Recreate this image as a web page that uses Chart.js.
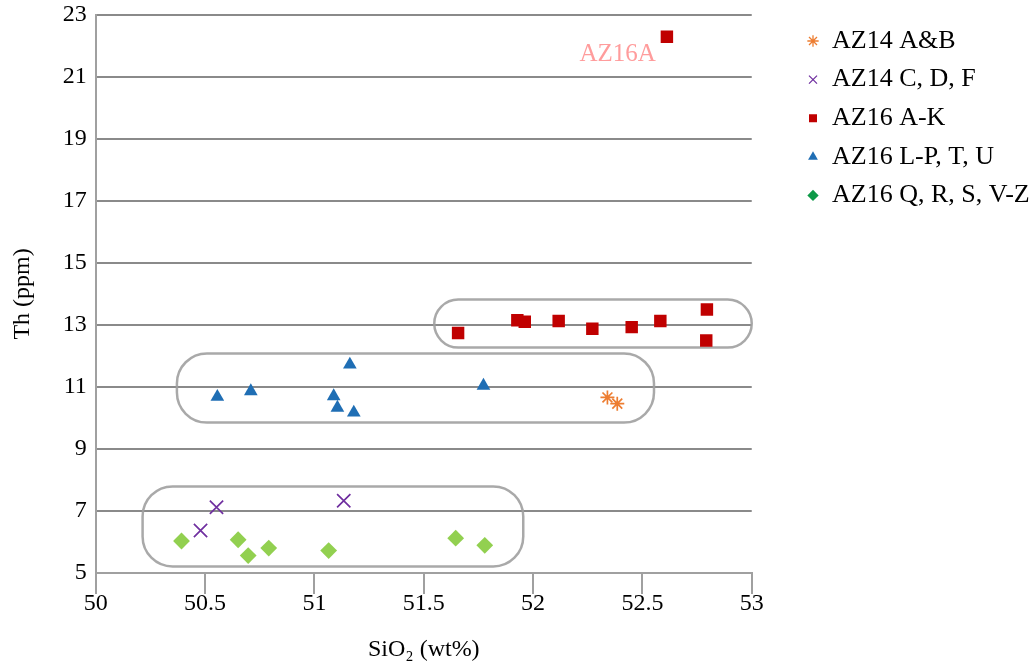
<!DOCTYPE html>
<html><head><meta charset="utf-8">
<script src="https://cdn.jsdelivr.net/npm/chart.js@4/dist/chart.umd.min.js"></script>
<style>html,body{margin:0;padding:0;background:#fff}#wrap{width:1034px;height:668px;position:relative}</style>
</head><body><div id="wrap"><canvas id="c" width="1034" height="668"></canvas></div>
<script>
// ---- data ----
const seriesNames = ['AZ14 A&B', 'AZ14 C, D, F', 'AZ16 A-K', 'AZ16 L-P, T, U', 'AZ16 Q, R, S, V-Z'];
const az14ab_x = [52.34, 52.385];
const az14ab_y = [10.66, 10.46];
const az14cdf_x = [50.552, 50.479, 51.134];
const az14cdf_y = [7.12, 6.37, 7.33];
const az16ak_x = [52.612, 51.657, 51.928, 51.962, 52.117, 52.271, 52.451, 52.582, 52.795, 52.792];
const az16ak_y = [22.30, 12.74, 13.15, 13.10, 13.13, 12.88, 12.93, 13.13, 13.50, 12.50];
const az16lp_x = [50.556, 50.709, 51.162, 51.088, 51.105, 51.180, 51.773];
const az16lp_y = [10.68, 10.86, 11.72, 10.70, 10.33, 10.17, 11.04];
const az16qr_x = [50.392, 50.651, 50.697, 50.791, 51.065, 51.646, 51.779];
const az16qr_y = [6.03, 6.07, 5.56, 5.80, 5.72, 6.12, 5.89];
const xTicks = [50, 50.5, 51, 51.5, 52, 52.5, 53];
const yTicks = [5, 7, 9, 11, 13, 15, 17, 19, 21, 23];
const xTitle = 'SiO\u2082 (wt%)';
const yTitle = 'Th (ppm)';
// group outlines (data coords)
const boxX0 = [51.548, 50.371, 50.214];
const boxX1 = [53.0, 52.553, 51.955];
const boxY0 = [12.27, 9.85, 5.21];
const boxY1 = [13.82, 12.08, 7.79];
// point label
const noteText = ['AZ16A'];
const noteX = [52.387];
const noteY = [21.5];

// ---- styles ----
const colors = ['#ED7D31', '#7030A0', '#C00000', '#1F6EB4', '#92D050'];
const legendColors = ['#ED7D31', '#7030A0', '#C00000', '#1F6EB4', '#0E9A48'];
const styles = ['star', 'crossRot', 'rect', 'triangle', 'rectRot'];
const radii = [7, 9.4, 8.8, 7.9, 8.4];
const FONT = '"Liberation Serif", "Times New Roman", serif';

function pts(xs, ys) { return xs.map((x, i) => ({ x: x, y: ys[i] })); }
const seriesData = [pts(az14ab_x, az14ab_y), pts(az14cdf_x, az14cdf_y), pts(az16ak_x, az16ak_y), pts(az16lp_x, az16lp_y), pts(az16qr_x, az16qr_y)];

const datasets = seriesNames.map((n, i) => {
  const stroke = styles[i] === 'star' || styles[i] === 'crossRot';
  return {
    label: n,
    data: seriesData[i],
    pointStyle: styles[i],
    pointRadius: radii[i],
    pointHoverRadius: radii[i],
    backgroundColor: colors[i],
    borderColor: colors[i],
    borderWidth: stroke ? 1.7 : 0,
    showLine: false
  };
});

const groupBoxPlugin = {
  id: 'groupBoxes',
  beforeDatasetsDraw(chart) {
    const { ctx, scales: { x, y } } = chart;
    ctx.save();
    ctx.strokeStyle = 'rgba(160,160,160,0.9)';
    ctx.lineWidth = 2.5;
    boxX0.forEach((v, i) => {
      const l = x.getPixelForValue(v), r = x.getPixelForValue(boxX1[i]);
      const t = y.getPixelForValue(boxY1[i]), b = y.getPixelForValue(boxY0[i]);
      const rad = Math.min((b - t) / 2, 30);
      ctx.beginPath();
      ctx.roundRect(l, t, r - l, b - t, rad);
      ctx.stroke();
    });
    ctx.restore();
  }
};

const notePlugin = {
  id: 'notes',
  afterDatasetsDraw(chart) {
    const { ctx, scales: { x, y } } = chart;
    ctx.save();
    ctx.font = '25px ' + FONT;
    ctx.fillStyle = '#FF9C9C';
    ctx.textAlign = 'center';
    ctx.textBaseline = 'alphabetic';
    noteText.forEach((t, i) => ctx.fillText(t, x.getPixelForValue(noteX[i]), y.getPixelForValue(noteY[i])));
    ctx.restore();
  }
};

const LEG_LEFT = 794.4, LEG_TOP = 15.4;
const legendMovePlugin = {
  id: 'legendMove',
  afterLayout(chart) {
    const lg = chart.legend;
    if (!lg) return;
    const dx = LEG_LEFT - lg.left, dy = LEG_TOP - lg.top;
    lg.left += dx; lg.right += dx; lg.top += dy; lg.bottom += dy;
  }
};

new Chart(document.getElementById('c'), {
  type: 'scatter',
  data: { datasets },
  plugins: [groupBoxPlugin, notePlugin, legendMovePlugin],
  options: {
    responsive: false,
    animation: false,
    layout: { padding: { left: 0, right: 37, top: 0, bottom: 4 } },
    plugins: {
      tooltip: { enabled: false },
      legend: {
        position: 'right',
        align: 'start',
        labels: {
          usePointStyle: true,
          boxWidth: 12,
          boxHeight: 8,
          padding: 12.6,
          color: '#000',
          font: { family: FONT, size: 26 },
          generateLabels(chart) {
            const items = Chart.defaults.plugins.legend.labels.generateLabels(chart);
            items.forEach((it, i) => {
              it.fillStyle = legendColors[i];
              it.strokeStyle = legendColors[i];
              it.lineWidth = (styles[i] === 'star' || styles[i] === 'crossRot') ? 1.3 : 0;
            });
            return items;
          }
        }
      }
    },
    scales: {
      x: {
        type: 'linear',
        min: xTicks[0],
        max: xTicks[xTicks.length - 1],
        afterBuildTicks(s) { s.ticks = xTicks.map(v => ({ value: v })); },
        grid: { drawOnChartArea: false, drawTicks: true, tickLength: 21, color: '#a0a0a0', lineWidth: 2 },
        border: { color: '#a0a0a0', width: 2 },
        ticks: { color: '#000', padding: -5, font: { family: FONT, size: 24 }, callback: v => String(v), maxRotation: 0 },
        title: { display: true, text: xTitle, color: '#000', font: { family: FONT, size: 24 }, padding: { top: 22.5, bottom: 0 } }
      },
      y: {
        type: 'linear',
        min: yTicks[0],
        max: yTicks[yTicks.length - 1],
        afterBuildTicks(s) { s.ticks = yTicks.map(v => ({ value: v })); },
        grid: { drawTicks: false, color: '#8a8a8a', lineWidth: 2 },
        border: { color: '#a0a0a0', width: 2 },
        ticks: { color: '#000', padding: 9, font: { family: FONT, size: 24, lineHeight: 0.5 }, callback: v => String(v) },
        title: { display: true, text: yTitle, color: '#000', font: { family: FONT, size: 24 }, padding: { top: 8, bottom: 17 } }
      }
    }
  }
});
</script>
</body></html>
